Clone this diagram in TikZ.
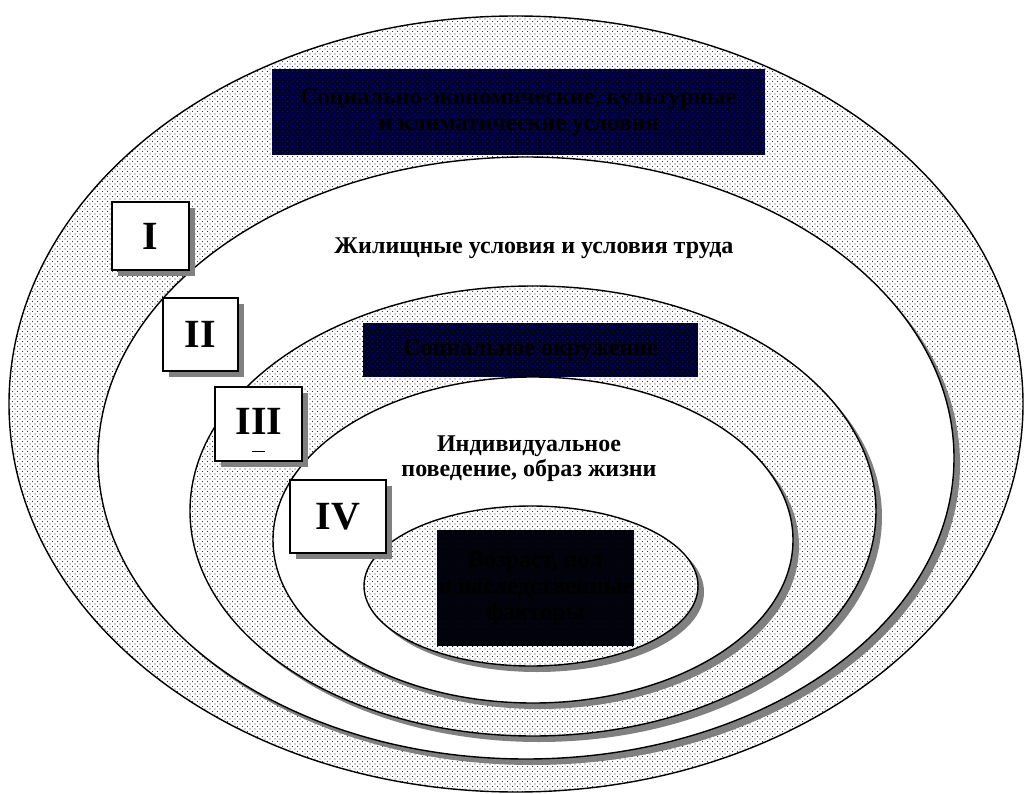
\documentclass[tikz,border=0pt]{standalone}
\usepackage{fontspec}
\setmainfont{Liberation Serif}
\usetikzlibrary{patterns.meta,shadows}

% fine stipple used for the shaded rings and the dark boxes
\tikzdeclarepattern{
  name=stipple,
  type=uncolored,
  bottom left={(-1pt,-1pt)},
  top right={(4pt,4pt)},
  tile size={(5pt,5pt)},
  code={
    \pgfpathcircle{\pgfpoint{0pt}{0pt}}{0.7pt}
    \pgfpathcircle{\pgfpoint{2.5pt}{2.5pt}}{0.7pt}
    \pgfusepath{fill}
  }
}

\definecolor{navyA}{RGB}{2,2,50}
\definecolor{navyB}{RGB}{2,2,40}
\definecolor{navyC}{RGB}{2,2,10}
\definecolor{navydot}{RGB}{10,10,150}
\definecolor{navydotdark}{RGB}{3,3,34}
\definecolor{shade}{RGB}{128,128,128}

\tikzset{
  x=1pt, y=-1pt,
  dotted ring/.style={preaction={fill=white}, pattern=stipple, pattern color=black!80,
    draw=black, line width=1.4pt},
  white ring/.style={fill=white, draw=black, line width=1.4pt},
  ring shadow/.style={fill=shade, draw=none},
  darkbox/.style={rectangle, inner sep=0pt, draw=none, pattern=stipple,
    pattern color=navydot, text=black, align=center,
    font=\fontsize{24}{26}\selectfont\bfseries},
  numbox/.style={rectangle, draw=black, line width=1.6pt, fill=white, inner sep=0pt,
    font=\fontsize{40}{44}\selectfont\bfseries,
    drop shadow={shadow xshift=6pt, shadow yshift=-6pt, opacity=1, fill=shade}},
  ringlabel/.style={align=center, inner sep=0pt,
    font=\fontsize{24}{25}\selectfont\bfseries},
}

\begin{document}
\begin{tikzpicture}
\useasboundingbox (0,0) rectangle (1028,794);

% outer ring I
\draw[dotted ring] (516,404) ellipse [x radius=507, y radius=388];
\node[darkbox, preaction={fill=navyA}, minimum width=493pt, minimum height=86pt]
  (macro) at (518.5,112) {Социально-экономические, культурные\\и климатические условия};

% ring II
\fill[ring shadow] (532,464) ellipse [x radius=428, y radius=301];
\draw[white ring] (526,458) ellipse [x radius=428, y radius=301];
\node[ringlabel] (living) at (534,248) {Жилищные условия и условия труда};

% ring III
\fill[ring shadow] (539,517) ellipse [x radius=343, y radius=225];
\draw[dotted ring] (533,511) ellipse [x radius=343, y radius=225];
\node[darkbox, preaction={fill=navyB}, minimum width=335pt, minimum height=54pt]
  (social) at (530.5,350) {Социальное окружение};

% ring IV
\fill[ring shadow] (539,546) ellipse [x radius=260, y radius=163];
\draw[white ring] (533,540) ellipse [x radius=260, y radius=163];
\node[ringlabel] (lifestyle) at (529,459) {Индивидуальное\\поведение, образ жизни};

% core
\fill[ring shadow] (537,592) ellipse [x radius=167, y radius=80];
\draw[dotted ring] (531,586) ellipse [x radius=167, y radius=80];
\node[darkbox, preaction={fill=navyC}, pattern color=navydotdark,
  minimum width=197pt, minimum height=116pt]
  (core) at (535.5,588) {Возраст, пол\\и наследственные\\факторы};

% level markers
\node[numbox, minimum width=77pt, minimum height=68pt] (lvlI) at (150.5,236) {I};
\node[numbox, minimum width=75pt, minimum height=73pt] (lvlII) at (200.5,334.5) {II};
\node[numbox, minimum width=87pt, minimum height=74pt] (lvlIII) at (258.5,424) {};
\node[font=\fontsize{40}{44}\selectfont\bfseries, inner sep=0pt] (lvlIIItext) at (259,421) {III};
\draw[line width=1pt] ([xshift=-6.5pt,yshift=-27pt]lvlIII.center) -- ([xshift=6.5pt,yshift=-27pt]lvlIII.center);
\node[numbox, minimum width=96pt, minimum height=73pt] (lvlIV) at (338,516.5) {IV};
\end{tikzpicture}
\end{document}
